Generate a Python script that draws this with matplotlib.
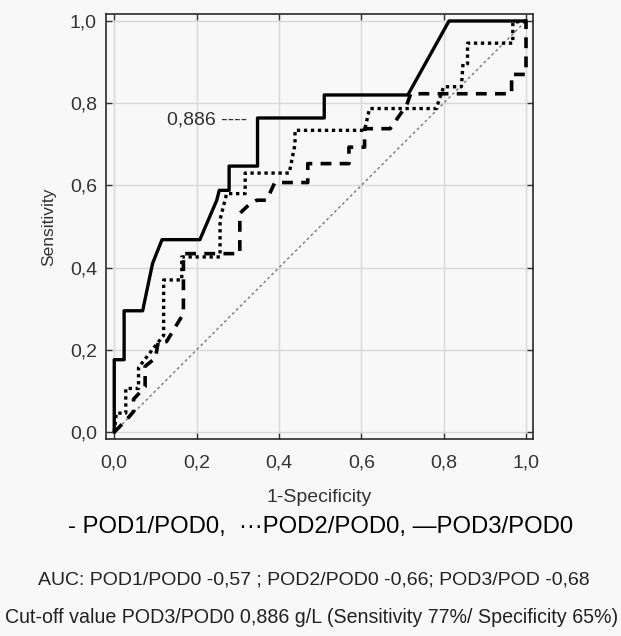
import matplotlib
matplotlib.use("Agg")
import matplotlib.pyplot as plt

plt.rcParams["font.family"] = ["Liberation Sans", "DejaVu Sans"]

# ROC points (1-specificity, sensitivity)
fpr_pod1 = [0.0, 0.03, 0.047, 0.047, 0.075, 0.075, 0.1, 0.107, 0.127, 0.168, 0.168,
            0.305, 0.305, 0.326, 0.346, 0.37, 0.39, 0.47, 0.47, 0.57, 0.57, 0.608,
            0.608, 0.67, 0.71, 0.72, 0.965, 0.965, 1.0, 1.0]
sens_pod1 = [0.0, 0.03, 0.05, 0.08, 0.11, 0.16, 0.18, 0.22, 0.22, 0.288, 0.434,
             0.434, 0.532, 0.552, 0.564, 0.564, 0.607, 0.607, 0.653, 0.653, 0.693, 0.693,
             0.738, 0.738, 0.795, 0.823, 0.823, 0.87, 0.87, 1.0]

fpr_pod2 = [0.0, 0.005, 0.028, 0.028, 0.059, 0.059, 0.107, 0.12, 0.12, 0.164, 0.164,
            0.257, 0.257, 0.273, 0.318, 0.318, 0.425, 0.439, 0.439, 0.608, 0.62, 0.782,
            0.8, 0.843, 0.847, 0.858, 0.858, 0.968, 0.968, 1.0]
sens_pod2 = [0.0, 0.046, 0.046, 0.106, 0.106, 0.157, 0.219, 0.235, 0.37, 0.37, 0.426,
             0.426, 0.517, 0.58, 0.58, 0.63, 0.63, 0.7, 0.734, 0.734, 0.787, 0.787,
             0.84, 0.84, 0.896, 0.896, 0.946, 0.946, 0.997, 1.0]

fpr_pod3 = [0.0, 0.0, 0.024, 0.024, 0.069, 0.093, 0.116, 0.208, 0.249, 0.255, 0.279,
            0.279, 0.348, 0.348, 0.51, 0.51, 0.713, 0.813, 1.0]
sens_pod3 = [0.0, 0.176, 0.176, 0.295, 0.295, 0.41, 0.468, 0.468, 0.564, 0.588, 0.588,
             0.647, 0.647, 0.764, 0.764, 0.82, 0.82, 1.0, 1.0]

ticks = [0.0, 0.2, 0.4, 0.6, 0.8, 1.0]
tick_labels = ["0,0", "0,2", "0,4", "0,6", "0,8", "1,0"]

bg = "#f8f8f8"
fig = plt.figure(figsize=(6.21, 6.36), dpi=100, facecolor=bg)
ax = fig.add_axes([0.1707, 0.3097, 0.6876, 0.6683], facecolor=bg)

ax.plot([0, 1], [0, 1], color="#777777", lw=1.0, linestyle=(0, (2, 2)))
ax.plot(fpr_pod1, sens_pod1, color="black", lw=2.6, linestyle=(0, (3, 2.3)))
ax.plot(fpr_pod2, sens_pod2, color="black", lw=2.4, linestyle=(0, (1, 1.1)))
ax.plot(fpr_pod3, sens_pod3, color="black", lw=2.4)

# cut-off marker label
ax.text(0.128, 0.758, "0,886 ----", fontsize=14, color="#333333", va="center", ha="left")

ax.set_xlim(-0.02, 1.017)
ax.set_ylim(-0.017, 1.017)
ax.set_xticks(ticks)
ax.set_xticklabels(tick_labels)
ax.set_yticks(ticks)
ax.set_yticklabels(tick_labels)
ax.tick_params(direction="in", top=True, right=True, length=4, width=1,
               labelsize=14, colors="#333333")
ax.tick_params(axis="x", pad=11)
ax.tick_params(axis="y", pad=6.5)
ax.grid(True, color="#d8d8d8", lw=1)
for s in ax.spines.values():
    s.set_color("#2a2a2a")
    s.set_linewidth(1.2)

ax.set_xlabel("1-Specificity", fontsize=14, color="#333333", labelpad=12.5)
ax.set_ylabel("Sensitivity", fontsize=12.5, color="#333333", labelpad=10)

fig.text(0.516, 0.1718, "- POD1/POD0,  \u00b7\u00b7\u00b7POD2/POD0, \u2014POD3/POD0",
         fontsize=17.2, ha="center", va="center", color="black")
fig.text(0.506, 0.0873, "AUC: POD1/POD0 -0,57 ; POD2/POD0 -0,66; POD3/POD -0,68",
         fontsize=14, ha="center", va="center", color="#222222")
fig.text(0.502, 0.029, "Cut-off value POD3/POD0 0,886 g/L (Sensitivity 77%/ Specificity 65%)",
         fontsize=14.1, ha="center", va="center", color="#222222")

fig.savefig("out.png", dpi=100, facecolor=bg)
